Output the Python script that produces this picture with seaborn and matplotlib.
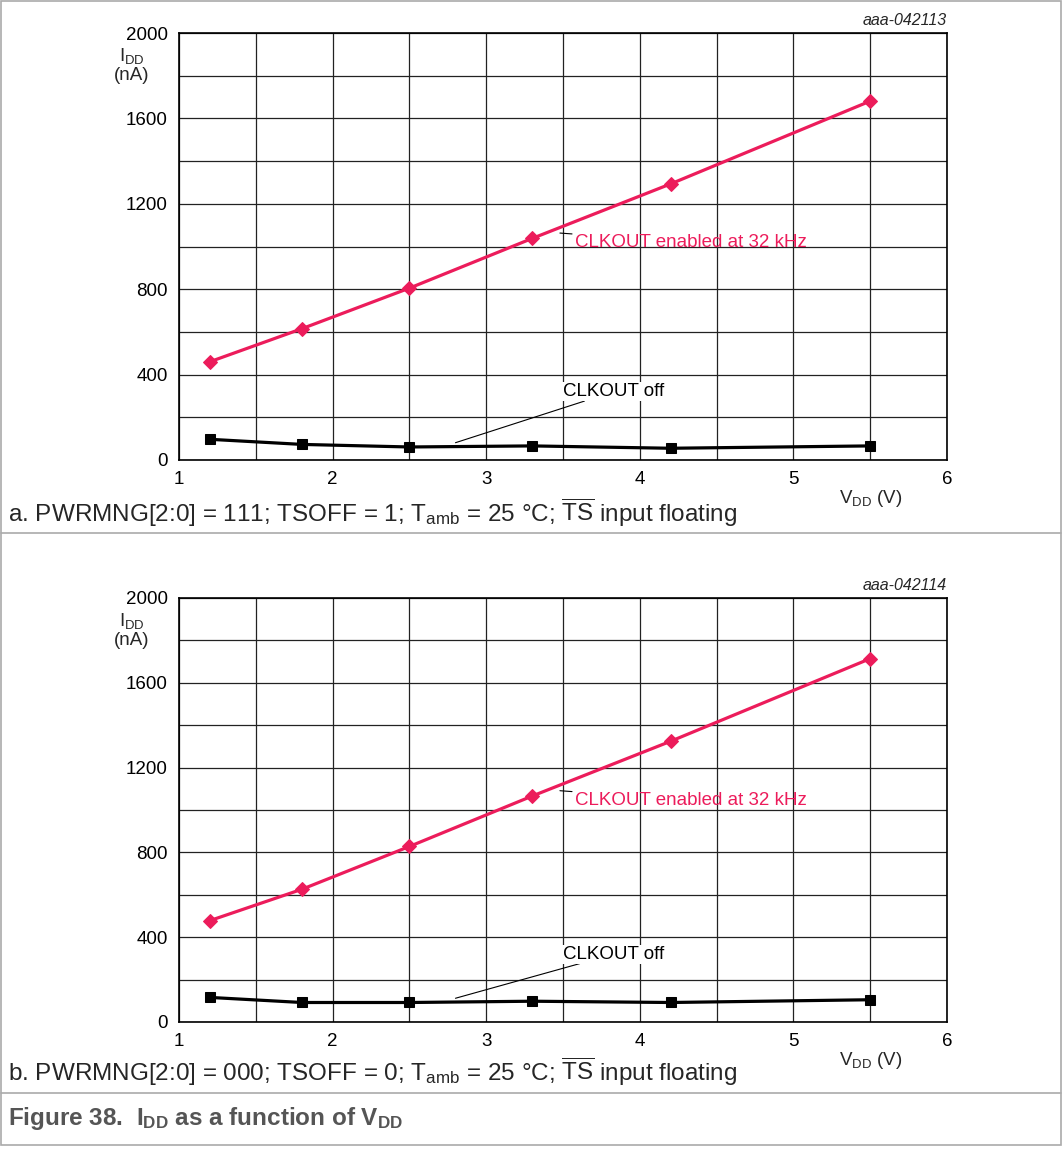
import numpy as np
import pandas as pd
import seaborn as sns
import matplotlib.pyplot as plt
from matplotlib.lines import Line2D
from matplotlib.patches import Rectangle

# data
vdd = [1.2, 1.8, 2.5, 3.3, 4.2, 5.5]
idd_on_a = [460, 615, 805, 1038, 1293, 1681]
idd_off_a = [97, 73, 61, 66, 55, 66]
idd_on_b = [478, 626, 828, 1066, 1324, 1714]
idd_off_b = [116, 92, 92, 98, 92, 105]

codes = ["aaa-042113", "aaa-042114"]
captions = [
    r"a. PWRMNG[2:0] = 111; TSOFF = 1; T$_{\mathregular{amb}}$ = 25 °C; $\mathregular{\overline{TS}}$ input floating",
    r"b. PWRMNG[2:0] = 000; TSOFF = 0; T$_{\mathregular{amb}}$ = 25 °C; $\mathregular{\overline{TS}}$ input floating",
]
label_on = "CLKOUT enabled at 32 kHz"
label_off = "CLKOUT off"

PINK = "#EC1C5B"

sns.set_style("white")
plt.rcParams["font.family"] = ["Liberation Sans", "DejaVu Sans"]
plt.rcParams["mathtext.fontset"] = "custom"
plt.rcParams["mathtext.rm"] = "Liberation Sans"
plt.rcParams["mathtext.it"] = "Liberation Sans:italic"
plt.rcParams["mathtext.bf"] = "Liberation Sans:bold"

W, H = 1062, 1168
fig = plt.figure(figsize=(W / 100, H / 100), dpi=100)


def px_axes(x0, y0, x1, y1):
    return fig.add_axes([x0 / W, 1 - y1 / H, (x1 - x0) / W, (y1 - y0) / H])


panels = [
    (px_axes(179, 33, 947, 460), idd_on_a, idd_off_a),
    (px_axes(179, 598, 947, 1022), idd_on_b, idd_off_b),
]

for i, (ax, on, off) in enumerate(panels):
    df = pd.DataFrame({"vdd": vdd + vdd,
                       "idd": on + off,
                       "mode": ["on"] * len(vdd) + ["off"] * len(vdd)})
    sns.lineplot(data=df[df["mode"] == "on"], x="vdd", y="idd", ax=ax,
                 color=PINK, lw=2.3, marker="D", markersize=7.5,
                 markeredgecolor=PINK, zorder=5)
    sns.lineplot(data=df[df["mode"] == "off"], x="vdd", y="idd", ax=ax,
                 color="black", lw=2.3, marker="s", markersize=7.5,
                 markeredgecolor="black", zorder=5)
    ax.set_xlim(1, 6)
    ax.set_ylim(0, 2000)
    ax.set_xticks(np.arange(1, 6.01, 1))
    ax.set_xticks(np.arange(1, 6.01, 0.5), minor=True)
    ax.set_yticks(np.arange(0, 2001, 400))
    ax.set_yticks(np.arange(0, 2001, 200), minor=True)
    ax.grid(which="both", color="#222222", lw=0.9)
    ax.tick_params(which="both", length=0, labelsize=13.5, colors="black")
    ax.tick_params(axis="x", pad=8)
    ax.tick_params(axis="y", pad=8)
    ax.set_xlabel("")
    ax.set_ylabel("")
    for s in ax.spines.values():
        s.set_color("black")
        s.set_linewidth(1.2)

    ax.text(-0.062, 0.925, "I$_{\\mathregular{DD}}$\n(nA)", transform=ax.transAxes,
            ha="center", va="center", fontsize=13.5, linespacing=1.1)
    ax.text(1.0, 1.012, codes[i], transform=ax.transAxes, ha="right",
            va="bottom", fontsize=11.5, style="italic")
    ax.text(0.9, -0.09, "V$_{\\mathregular{DD}}$ (V)", transform=ax.transAxes,
            ha="center", va="center", fontsize=13.5)

    # pink label with short leader
    xo, yo = vdd[3], on[3]
    ax.annotate(label_on, xy=(xo + 0.18, yo + 25), xytext=(xo + 0.28, yo - 20),
                color=PINK, fontsize=13.5, va="center", ha="left",
                arrowprops=dict(arrowstyle="-", color="black", lw=0.8,
                                shrinkA=0, shrinkB=0), zorder=6)
    # black label with long leader
    ax.annotate(label_off, xy=(2.8, off[2] + 20), xytext=(3.5, 320),
                color="black", fontsize=13.5, va="center", ha="left",
                bbox=dict(boxstyle="square,pad=0.05", fc="white", ec="none"),
                arrowprops=dict(arrowstyle="-", color="black", lw=0.8,
                                shrinkA=0, shrinkB=0), zorder=6)

fig.text(8 / W, 1 - 513 / H, captions[0], fontsize=17.5, va="center", ha="left")
fig.text(8 / W, 1 - 1072 / H, captions[1], fontsize=17.5, va="center", ha="left")
fig.text(8 / W, 1 - 1118 / H,
         "Figure 38.  I$_{\\mathbf{DD}}$ as a function of V$_{\\mathbf{DD}}$",
         fontsize=17.5, weight="bold", color="#555555", va="center", ha="left")

# frame and separator lines
fig.add_artist(Rectangle((1 / W, 1 - 1145 / H), (W - 2) / W, 1144 / H,
                         transform=fig.transFigure, fill=False,
                         ec="#aaaaaa", lw=1.2))
for yy in [533, 1093]:
    fig.add_artist(Line2D([1 / W, 1 - 1 / W], [1 - yy / H, 1 - yy / H],
                          transform=fig.transFigure, color="#aaaaaa", lw=1.2))

fig.savefig("out.png", dpi=100)
